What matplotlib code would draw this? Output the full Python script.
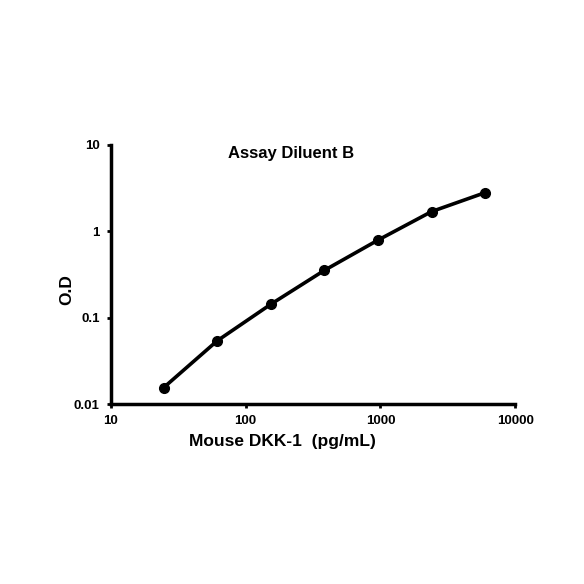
import numpy as np
import matplotlib.pyplot as plt
from matplotlib.ticker import FixedLocator, NullLocator

# standard curve
conc = [24.58, 61.44, 153.6, 384, 960, 2400, 6000]
od = [0.0155, 0.054, 0.143, 0.353, 0.79, 1.69, 2.8]

xticks = [10, 100, 1000, 10000]
xlabels = ["10", "100", "1000", "10000"]
yticks = [0.01, 0.1, 1, 10]
ylabels = ["0.01", "0.1", "1", "10"]

plt.rcParams['font.family'] = ['Liberation Sans', 'DejaVu Sans']

fig = plt.figure(figsize=(5.84, 5.84), dpi=100)
ax = fig.add_axes([0.190, 0.308, 0.692, 0.444])

ax.plot(conc, od, color="black", lw=2.6, marker="o", ms=7)
ax.set_xscale("log")
ax.set_yscale("log")
ax.set_xlim(10, 10000)
ax.set_ylim(0.01, 10)

ax.xaxis.set_major_locator(FixedLocator(xticks))
ax.yaxis.set_major_locator(FixedLocator(yticks))
ax.xaxis.set_minor_locator(NullLocator())
ax.yaxis.set_minor_locator(NullLocator())
ax.set_xticklabels(xlabels, fontsize=9.5, fontweight="bold")
ax.set_yticklabels(ylabels, fontsize=9.5, fontweight="bold")
ax.tick_params(axis="both", direction="out", length=3, width=2, pad=5)

for s in ["top", "right"]:
    ax.spines[s].set_visible(False)
for s in ["left", "bottom"]:
    ax.spines[s].set_linewidth(2.5)

fig.text(0.499, 0.737, "Assay Diluent B", ha="center", va="center",
         fontsize=12, fontweight="bold")
fig.text(0.484, 0.244, "Mouse DKK-1  (pg/mL)", ha="center", va="center",
         fontsize=12.5, fontweight="bold")
fig.text(0.115, 0.505, "O.D", ha="center", va="center", rotation=90,
         fontsize=12.5, fontweight="bold")

fig.savefig("out.png", dpi=100, facecolor="white")
